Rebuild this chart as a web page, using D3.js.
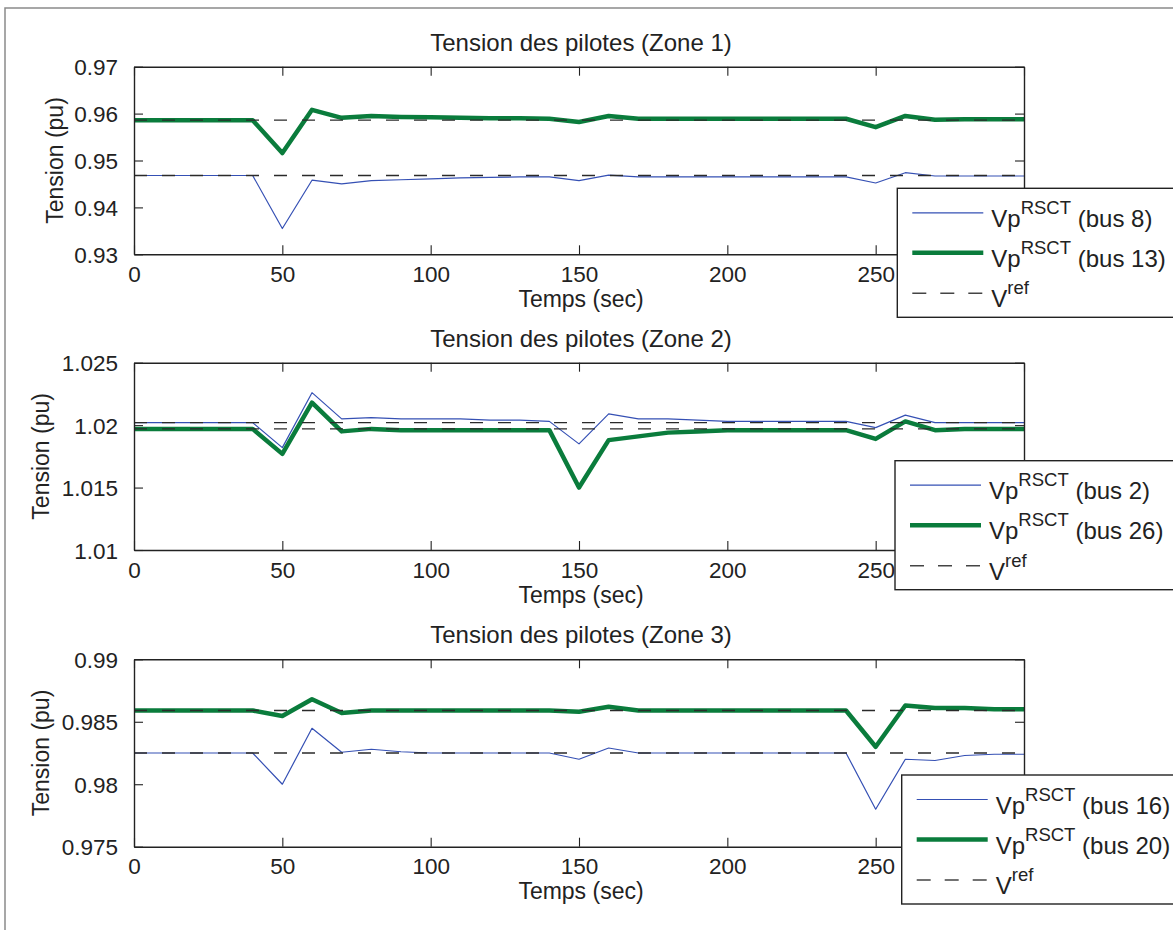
<!DOCTYPE html>
<html>
<head>
<meta charset="utf-8">
<script src="https://cdn.jsdelivr.net/npm/d3@7"></script>
<style>
  html, body { margin: 0; padding: 0; background: #fff; }
  svg { display: block; font-family: "Liberation Sans", Arial, Helvetica, sans-serif; }
</style>
</head>
<body>
<svg id="chart" width="1173" height="930"></svg>
<script>
// ---------- DATA ----------
const time = [0,10,20,30,40,50,60,70,80,90,100,110,120,130,140,150,160,170,180,190,200,210,220,230,240,250,260,270,280,290,300];
const xTicks = [0,50,100,150,200,250,300];
const xTickLabels = ["0","50","100","150","200","250",""]; // 300 is hidden behind the legend

// Zone 1
const zone1Title = "Tension des pilotes (Zone 1)";
const zone1Ticks = [0.93,0.94,0.95,0.96,0.97];
const zone1Domain = [0.93,0.97];
const zone1Bus8 = [0.9468,0.9468,0.9468,0.9468,0.9468,0.9355,0.9458,0.9450,0.9457,0.9459,0.9461,0.9463,0.9464,0.9465,0.9465,0.9457,0.9469,0.9465,0.9465,0.9465,0.9465,0.9465,0.9465,0.9465,0.9465,0.9452,0.9474,0.9467,0.9467,0.9467,0.9467];
const zone1Bus13 = [0.9586,0.9586,0.9586,0.9586,0.9586,0.9516,0.9608,0.9591,0.9595,0.9593,0.9592,0.9591,0.9590,0.9590,0.9589,0.9582,0.9595,0.9589,0.9589,0.9589,0.9589,0.9589,0.9589,0.9589,0.9589,0.9571,0.9595,0.9587,0.9588,0.9588,0.9588];
const zone1Ref = [0.9468, 0.9586];
const zone1Labels = ["(bus 8)", "(bus 13)"];

// Zone 2
const zone2Title = "Tension des pilotes (Zone 2)";
const zone2Ticks = [1.01,1.015,1.02,1.025];
const zone2Domain = [1.01,1.025];
const zone2Bus2 = [1.0202,1.0202,1.0202,1.0202,1.0202,1.0182,1.0226,1.0205,1.0206,1.0205,1.0205,1.0205,1.0204,1.0204,1.0203,1.0185,1.0209,1.0205,1.0205,1.0204,1.0203,1.0203,1.0203,1.0203,1.0203,1.0198,1.0208,1.0202,1.0202,1.0202,1.0202];
const zone2Bus26 = [1.0197,1.0197,1.0197,1.0197,1.0197,1.0177,1.0218,1.0195,1.0197,1.0196,1.0196,1.0196,1.0196,1.0196,1.0196,1.0150,1.0188,1.0191,1.0194,1.0195,1.0196,1.0196,1.0196,1.0196,1.0196,1.0189,1.0203,1.0196,1.0197,1.0197,1.0197];
const zone2Ref = [1.0202, 1.0197];
const zone2Labels = ["(bus 2)", "(bus 26)"];

// Zone 3
const zone3Title = "Tension des pilotes (Zone 3)";
const zone3Ticks = [0.975,0.98,0.985,0.99];
const zone3Domain = [0.975,0.99];
const zone3Bus16 = [0.9825,0.9825,0.9825,0.9825,0.9825,0.9800,0.98448,0.98256,0.9828,0.9826,0.9825,0.9825,0.9825,0.9825,0.9825,0.9820,0.9829,0.9825,0.9825,0.9825,0.9825,0.9825,0.9825,0.9825,0.9825,0.9780,0.9820,0.9819,0.9823,0.9824,0.9824];
const zone3Bus20 = [0.9859,0.9859,0.9859,0.9859,0.9859,0.98546,0.9868,0.9857,0.9859,0.9859,0.9859,0.9859,0.9859,0.9859,0.9859,0.9858,0.9862,0.9859,0.9859,0.9859,0.9859,0.9859,0.9859,0.9859,0.9859,0.9830,0.9863,0.9861,0.9861,0.9860,0.9860];
const zone3Ref = [0.9825, 0.9859];
const zone3Labels = ["(bus 16)", "(bus 20)"];

const xLabel = "Temps (sec)";
const yLabel = "Tension (pu)";

// ---------- LAYOUT ----------
const svg = d3.select("#chart");
svg.append("rect").attr("x",5).attr("y",8).attr("width",1200).attr("height",1000)
  .attr("fill","#fff").attr("stroke","#8a8a8a").attr("stroke-width",1.5);

const panels = [
  {title: zone1Title, ticks: zone1Ticks, domain: zone1Domain, s1: zone1Bus8, s2: zone1Bus13, ref: zone1Ref, labels: zone1Labels, top: 66.7, bottom: 254.3, ylx: 63, legend: {x: 897.3, y: 188.3}},
  {title: zone2Title, ticks: zone2Ticks, domain: zone2Domain, s1: zone2Bus2, s2: zone2Bus26, ref: zone2Ref, labels: zone2Labels, top: 362.7, bottom: 550, ylx: 49, legend: {x: 895, y: 460.7}},
  {title: zone3Title, ticks: zone3Ticks, domain: zone3Domain, s1: zone3Bus16, s2: zone3Bus20, ref: zone3Ref, labels: zone3Labels, top: 659.3, bottom: 846.7, ylx: 49, legend: {x: 901.7, y: 775}}
];

const left = 134, right = 1024;
const blue = "#3550b4", green = "#0a7c3c", refColor = "#2a2a2a", axisColor = "#222";
const tickFmt = d => String(+d.toFixed(4));

panels.forEach(p => {
  const x = d3.scaleLinear().domain([0,300]).range([left,right]);
  const y = d3.scaleLinear().domain(p.domain).range([p.bottom,p.top]);
  const g = svg.append("g");

  // data lines
  const line = d3.line().x((d,i) => x(time[i])).y(d => y(d));
  g.append("path").datum(p.s1).attr("d", line).attr("fill","none")
    .attr("stroke", blue).attr("stroke-width", 1.2).attr("stroke-linejoin","round");
  g.append("path").datum(p.s2).attr("d", line).attr("fill","none")
    .attr("stroke", green).attr("stroke-width", 4.5).attr("stroke-linejoin","round");
  // reference lines
  p.ref.forEach(r => {
    g.append("line").attr("x1", x(0)).attr("x2", x(300)).attr("y1", y(r)).attr("y2", y(r))
      .attr("stroke", refColor).attr("stroke-width", 1.4).attr("stroke-dasharray","13,15");
  });

  // axes (box with inward ticks)
  const tl = 9;
  const axB = d3.axisBottom(x).tickValues(xTicks).tickSizeInner(-tl).tickSizeOuter(0).tickPadding(14)
    .tickFormat((d,i) => xTickLabels[i]);
  const axT = d3.axisTop(x).tickValues(xTicks).tickSizeInner(-tl).tickSizeOuter(0).tickFormat("");
  const axL = d3.axisLeft(y).tickValues(p.ticks).tickSizeInner(-tl).tickSizeOuter(0).tickPadding(16).tickFormat(tickFmt);
  const axR = d3.axisRight(y).tickValues(p.ticks).tickSizeInner(-tl).tickSizeOuter(0).tickFormat("");
  const gb = g.append("g").attr("transform",`translate(0,${p.bottom})`).call(axB);
  const gt = g.append("g").attr("transform",`translate(0,${p.top})`).call(axT);
  const gl = g.append("g").attr("transform",`translate(${left},0)`).call(axL);
  const gr = g.append("g").attr("transform",`translate(${right},0)`).call(axR);
  [gb,gt,gl,gr].forEach(a => {
    a.select(".domain").attr("stroke", axisColor).attr("stroke-width", 1.4);
    a.selectAll(".tick line").attr("stroke", axisColor).attr("stroke-width", 1.1);
    a.selectAll("text").attr("fill","#222").attr("font-size", 22.5).attr("font-family", null);
  });
  gb.selectAll(".tick text").attr("dy", null).attr("y", 27.5);
  gl.selectAll(".tick text").attr("dy","0.36em");

  // title & labels
  svg.append("text").attr("x", (left+right)/2 + 2).attr("y", p.top - 16)
    .attr("text-anchor","middle").attr("font-size", 24).attr("fill","#222").text(p.title);
  svg.append("text").attr("x", 581).attr("y", p.bottom + 52.5)
    .attr("text-anchor","middle").attr("font-size", 23).attr("fill","#222").text(xLabel);
  svg.append("text").attr("transform",`translate(${p.ylx},${(p.top+p.bottom)/2}) rotate(-90)`)
    .attr("text-anchor","middle").attr("font-size", 23).attr("fill","#222").text(yLabel);

  // legend
  const L = svg.append("g").attr("transform",`translate(${p.legend.x},${p.legend.y})`);
  L.append("rect").attr("x",0).attr("y",0).attr("width",300).attr("height",129)
    .attr("fill","#fff").attr("stroke", axisColor).attr("stroke-width",1.4);
  const rows = [
    {stroke: blue, w: 1.2, dash: null, main: "Vp", sup: "RSCT", rest: " " + p.labels[0], dy: 24.5},
    {stroke: green, w: 4.5, dash: null, main: "Vp", sup: "RSCT", rest: " " + p.labels[1], dy: 64.5},
    {stroke: "#444", w: 1.4, dash: "14,14", main: "V", sup: "ref", rest: "", dy: 105}
  ];
  rows.forEach(r => {
    L.append("line").attr("x1",15).attr("x2",86).attr("y1",r.dy).attr("y2",r.dy)
      .attr("stroke", r.stroke).attr("stroke-width", r.w).attr("stroke-dasharray", r.dash);
    const t = L.append("text").attr("x", 94).attr("y", r.dy + 14).attr("font-size", 24).attr("fill","#222");
    t.append("tspan").text(r.main);
    t.append("tspan").attr("font-size", 18.5).attr("dy", -13).text(r.sup);
    if (r.rest) t.append("tspan").attr("font-size", 24).attr("dy", 13).text(r.rest);
  });
});
</script>
</body>
</html>
